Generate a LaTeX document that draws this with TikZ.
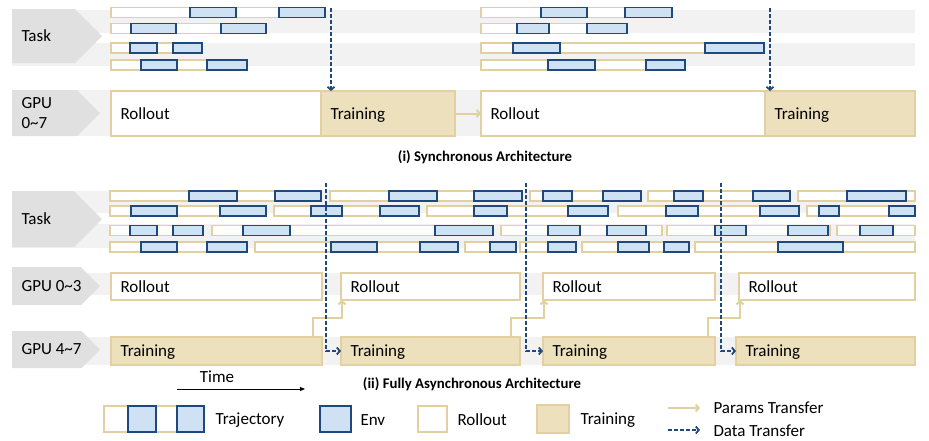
\documentclass[tikz,border=0pt]{standalone}
\usepackage{fontspec}
\setmainfont{Carlito}
\usetikzlibrary{arrows.meta}

\definecolor{tanline}{RGB}{226,208,160}
\definecolor{tanfill}{RGB}{237,224,189}
\definecolor{envfill}{RGB}{207,226,243}
\definecolor{navy}{RGB}{31,73,125}
\definecolor{laneband}{RGB}{242,242,242}
\definecolor{chevgrey}{RGB}{224,224,224}

% one trajectory bar: y, x from, x to, env pieces
\newcommand{\traj}[4]{%
  \draw[trajbar] (#2,#1-5) rectangle (#3,#1+5);
  \foreach \a/\b in {#4} {\draw[envbox] (\a,#1-5) rectangle (\b,#1+5);}
}
% grey row label: name, y top, y bottom, tip x, text
\newcommand{\lane}[5]{%
  \fill[chev] (12,#2) -- ({#4-(#3-#2)/2},#2) -- (#4,{(#2+#3)/2})
    -- ({#4-(#3-#2)/2},#3) -- (12,#3) -- cycle;
  \node[anchor=west, align=left] (#1) at (18,{(#2+#3)/2}) {#5};
}
% gpu phase box: name, style, x from, x to, y top, y bottom, text
\newcommand{\phase}[7]{%
  \node[#2, anchor=north west, minimum width={#4-#3}, minimum height={#6-#5}] (#1) at (#3,#5) {};
  \node[anchor=west, text height=11pt, text depth=0pt] (#1-t) at ([xshift=6pt]#1.west) {#7};
}

\begin{document}
\begin{tikzpicture}[
  x=1pt, y=-1pt,
  font=\fontsize{17}{19}\selectfont,
  band/.style={fill=laneband},
  chev/.style={fill=chevgrey},
  trajbar/.style={draw=tanline, line width=1.8pt, fill=white},
  envbox/.style={draw=navy, line width=1.8pt, fill=envfill},
  rollbox/.style={draw=tanline, line width=2pt, fill=white, inner sep=0pt, outer sep=0pt},
  trainbox/.style={draw=tanline, line width=2pt, fill=tanfill, inner sep=0pt, outer sep=0pt},
  params/.style={-{Straight Barb[length=3pt,width=7pt]}, draw=tanline, line width=2pt},
  data/.style={-{Straight Barb[length=3pt,width=7pt]}, draw=navy, line width=1.8pt,
               dash pattern=on 4pt off 2pt},
  title/.style={font=\fontsize{14.8}{16}\selectfont\bfseries},
]
\useasboundingbox (0,0) rectangle (929,440);
% ---- background rows ----
\fill[band] (12,10) rectangle (915,33);
\fill[band] (12,43) rectangle (915,66);
\fill[band] (12,90) rectangle (915,136);
\fill[band] (12,191) rectangle (915,213);
\fill[band] (12,224) rectangle (915,248);
\fill[band] (12,273) rectangle (915,295);
\fill[band] (12,337) rectangle (915,365);
\lane{task1}{9}{63}{102}{Task}
\lane{gpu1}{90}{136}{100}{GPU\\[1pt]0\textasciitilde7}
\lane{task2}{191}{247}{102}{Task}
\lane{gpu2}{267}{305}{100}{GPU 0\textasciitilde3}
\lane{gpu3}{331}{368}{100}{GPU 4\textasciitilde7}
% ---- synchronous: tasks ----
\traj{12.5}{111}{325}{190/236,279/325}
\traj{28.5}{111}{266}{131/176,221/266}
\traj{48}{111}{202}{130/157,173/202}
\traj{65}{111}{247}{141/177,207/247}
\traj{12.5}{481}{672}{541/587,625/672}
\traj{28.5}{481}{627}{517/549,587/627}
\traj{48}{481}{764}{513/560,705/764}
\traj{65}{481}{685}{548/595,646/685}
% ---- synchronous: gpu ----
\phase{sroll1}{rollbox}{111}{321}{91}{136}{Rollout}
\phase{strain1}{trainbox}{321}{455}{91}{136}{Training}
\phase{sroll2}{rollbox}{481}{765}{91}{136}{Rollout}
\phase{strain2}{trainbox}{765}{915}{91}{136}{Training}
\coordinate (sd1) at (331,8);
\coordinate (sd2) at (770,8);
\draw[data] (sd1) -- (sd1 |- strain1.north);
\draw[data] (sd2) -- (sd2 |- strain2.north);
\draw[params] (strain1.east) -- (sroll2.west);
\node[title] (cap1) at (485,157) {(i) Synchronous Architecture};
% ---- asynchronous: tasks ----
\traj{196}{110}{321}{189/237,275/321}
\traj{196}{330}{522}{389/437,474/522}
\traj{196}{530}{641}{543/572,603/641}
\traj{196}{648}{790}{674/703,753/790}
\traj{196}{798}{915}{847/906}
\traj{211}{110}{266}{131/177,220/266}
\traj{211}{274}{419}{311/342,380/419}
\traj{211}{427}{608}{474/507,568/608}
\traj{211}{618}{799}{666/698,760/799}
\traj{211}{807}{915}{819/839,889/915}
\traj{230.5}{110}{203}{130/157,173/203}
\traj{230.5}{212}{493}{243/290,435/493}
\traj{230.5}{501}{662}{548/580,607/646}
\traj{230.5}{667}{830}{715/746,788/828}
\traj{230.5}{837}{915}{860/893}
\traj{247}{110}{247}{141/177,207/247}
\traj{247}{255}{458}{331/377,420/458}
\traj{247}{465}{516}{490/516}
\traj{247}{520}{576}{548/576}
\traj{247}{582}{689}{618/649,664/689}
\traj{247}{695}{915}{778/843}
% ---- asynchronous: gpu ----
\phase{aroll1}{rollbox}{111}{322}{273}{300}{Rollout}
\phase{aroll2}{rollbox}{341}{520}{273}{300}{Rollout}
\phase{aroll3}{rollbox}{543}{715}{273}{300}{Rollout}
\phase{aroll4}{rollbox}{739}{915}{273}{300}{Rollout}
\phase{atrain1}{trainbox}{111}{322}{337}{365}{Training}
\phase{atrain2}{trainbox}{341}{520}{337}{365}{Training}
\phase{atrain3}{trainbox}{543}{715}{337}{365}{Training}
\phase{atrain4}{trainbox}{736}{915}{337}{365}{Training}
\draw[params] ([xshift=-9]atrain1.north east) -- ++(0,-19) -| ([xshift=1]aroll2.south west);
\draw[params] ([xshift=-9]atrain2.north east) -- ++(0,-19) -| ([xshift=1]aroll3.south west);
\draw[params] ([xshift=-7]atrain3.north east) -- ++(0,-19) -| ([xshift=1]aroll4.south west);
\coordinate (ad1) at (326,183);
\coordinate (ad2) at (526,183);
\coordinate (ad3) at (721,183);
\draw[data] (ad1) |- (atrain2.west);
\draw[data] (ad2) |- (atrain3.west);
\draw[data] (ad3) |- (atrain4.west);
\node[title] (cap2) at (472,384) {(ii) Fully Asynchronous Architecture};
% ---- time axis ----
\node (time) at (217,377) {Time};
\coordinate (t0) at (177,389);
\coordinate (t1) at (305,389);
\draw[-{Triangle[length=5pt,width=4pt]}, line width=0.9pt] (t0) -- (t1);
% ---- legend ----
\draw[trajbar] (104,406) rectangle (204,432);
\draw[envbox] (128,406) rectangle (156,432);
\draw[envbox] (177,406) rectangle (204,432);
\node[anchor=west] (lgtraj) at (212,420) {Trajectory};
\draw[envbox] (320,406) rectangle (351,432);
\node[anchor=west] (lgenv) at (357,420) {Env};
\draw[rollbox] (418,406) rectangle (447,432);
\node[anchor=west] (lgroll) at (454,420) {Rollout};
\draw[trainbox] (537,405) rectangle (569,433);
\node[anchor=west] (lgtrain) at (577,420) {Training};
\coordinate (p0) at (668,408);
\coordinate (p1) at (700,408);
\coordinate (q0) at (668,430);
\coordinate (q1) at (700,430);
\draw[params] (p0) -- (p1);
\draw[data] (q0) -- (q1);
\node[anchor=west] (lgparams) at (710,408) {Params Transfer};
\node[anchor=west] (lgdata) at (710,431) {Data Transfer};
\end{tikzpicture}
\end{document}
